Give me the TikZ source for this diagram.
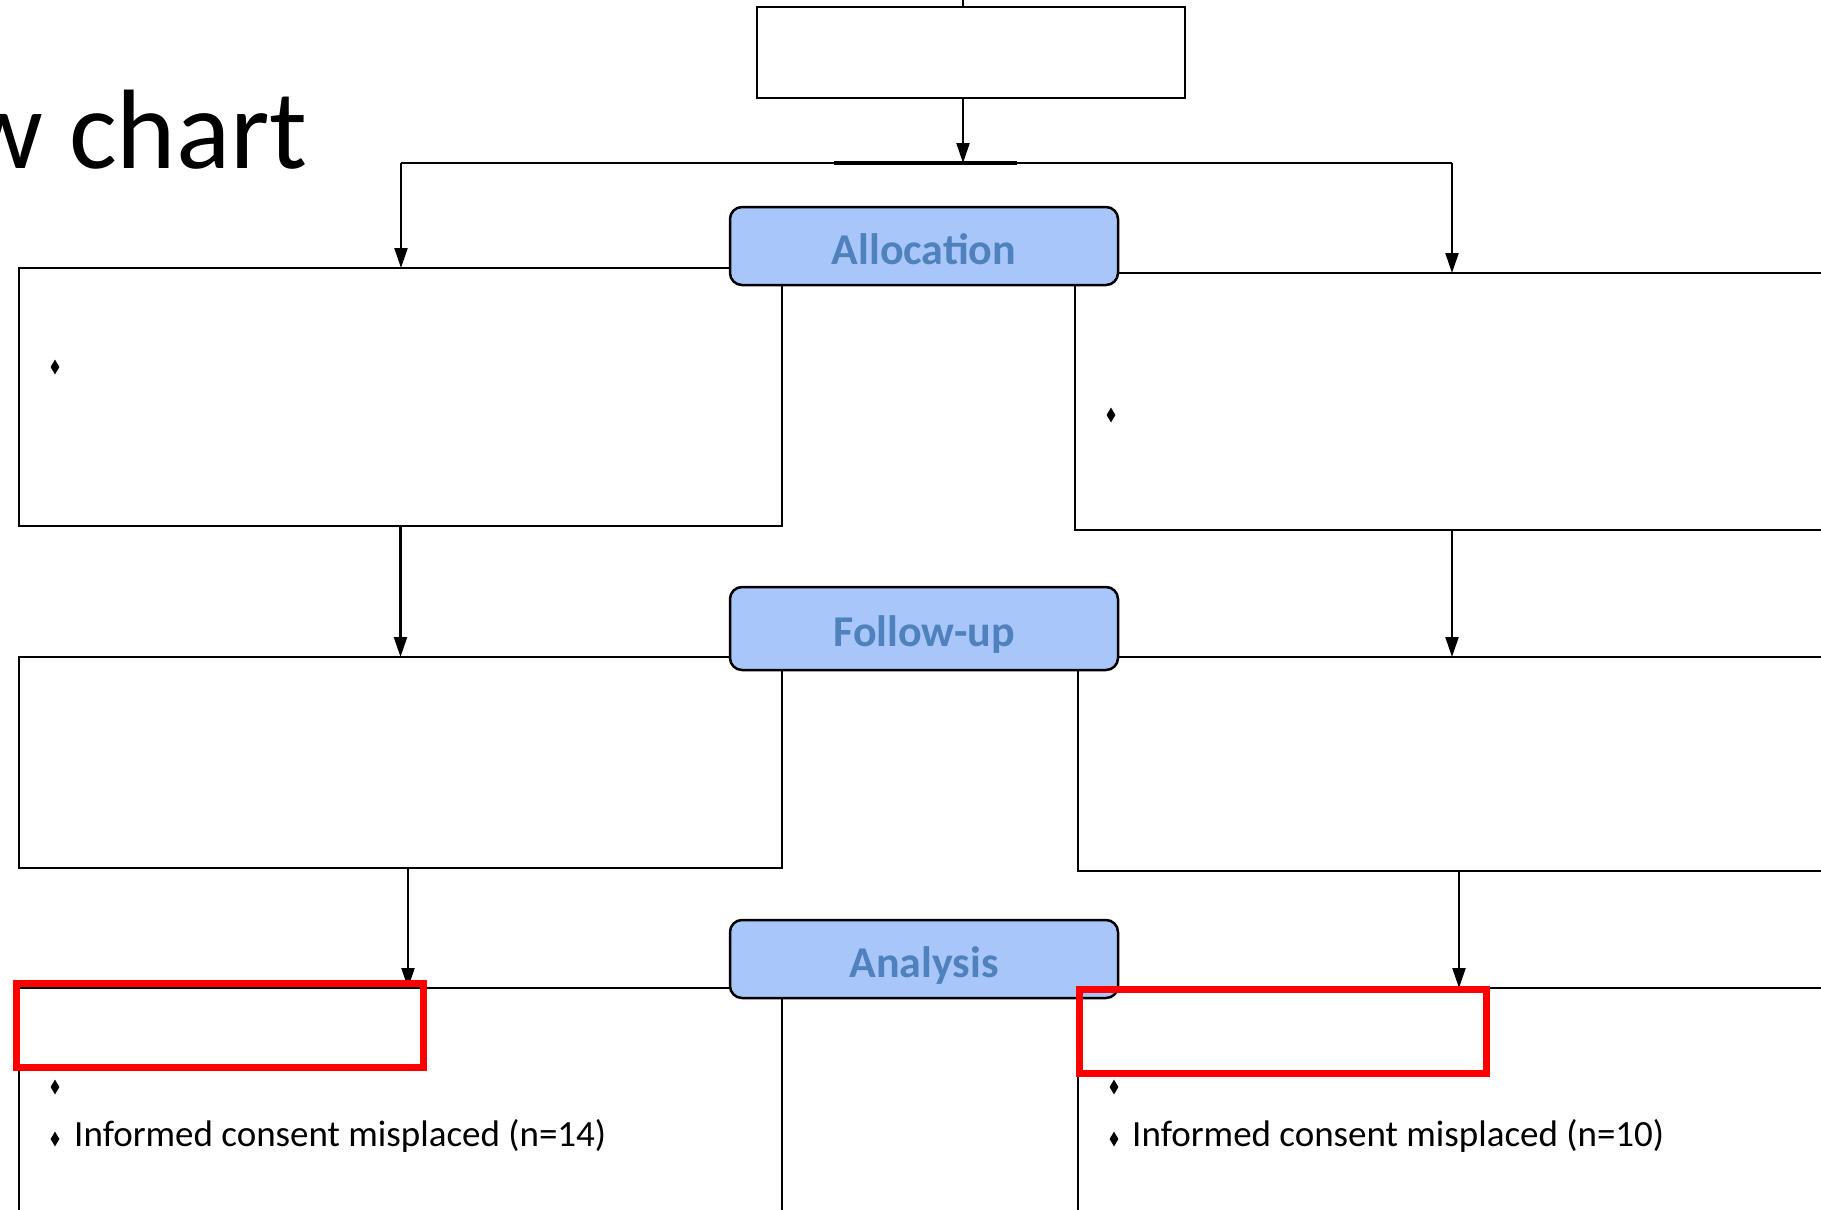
\documentclass[tikz,border=0pt]{standalone}
\usepackage{fontspec}
\setmainfont{Carlito}
\usetikzlibrary{arrows.meta,shapes.geometric}
\definecolor{labfill}{RGB}{168,198,250}
\definecolor{labtext}{RGB}{79,129,189}
\begin{document}
\begin{tikzpicture}[x=1pt,y=-1pt,
  box/.style={draw, line width=2.2pt, rectangle, inner sep=0pt, outer sep=0pt, anchor=north west},
  lab/.style={draw, line width=2.5pt, rounded corners=12pt, fill=labfill, text=labtext,
    font=\bfseries\fontsize{44}{44}\selectfont, minimum width=388pt, inner sep=0pt, outer sep=0pt,
    text height=36pt, text depth=0pt, anchor=north west},
  arr/.style={-{Triangle[length=20pt,width=13pt]}, line width=2.2pt},
  redbox/.style={draw=red, line width=7pt, inner sep=0pt, outer sep=0pt, anchor=north west},
  bul/.style={diamond, fill=black, inner sep=0pt, minimum width=9pt, minimum height=15pt},
  btxt/.style={anchor=base west, font=\fontsize{37}{37}\selectfont, inner sep=0pt}]
\useasboundingbox (0,0) rectangle (1821,1210);
\clip (0,0) rectangle (1821,1210);
\fill[white] (0,0) rectangle (1821,1210);

\node[anchor=base east, font=\fontsize{113}{113}\selectfont, inner sep=0pt] (title) at (308,168) {Flow chart};

% top box
\node[box, minimum width=428pt, minimum height=91pt] (top) at (757,7) {};
\coordinate (tick) at (963,-5);
\draw[line width=2.2pt] (tick) -- (tick |- top.north);
\coordinate (split) at (963,163);
\draw[arr] (split |- top.south) -- (split);
\coordinate (lsplit) at (401,163);
\coordinate (rsplit) at (1452,163);
\draw[line width=2.2pt] (lsplit) -- (rsplit);
\draw[line width=3.2pt] (834,163) -- (1017,163);

% boxes
\node[box, minimum width=763pt, minimum height=258pt] (L1) at (19,268) {};
\node[box, minimum width=800pt, minimum height=257pt] (R1) at (1075,273) {};
\node[box, minimum width=763pt, minimum height=211pt] (L2) at (19,657) {};
\node[box, minimum width=800pt, minimum height=214pt] (R2) at (1078,657) {};
\node[box, minimum width=763pt, minimum height=300pt] (L3) at (19,988) {};
\node[box, minimum width=800pt, minimum height=300pt] (R3) at (1078,988) {};

% arrows
\draw[arr] (lsplit) -- (lsplit |- L1.north);
\draw[arr] (rsplit) -- (rsplit |- R1.north);
\draw[arr] (L1.south) -- (L2.north);
\draw[arr] (rsplit |- R1.south) -- (rsplit |- R2.north);
\coordinate (l3x) at (408,0);
\coordinate (r3x) at (1459,0);
\draw[arr] (l3x |- L2.south) -- (l3x |- L3.north);
\draw[arr] (r3x |- R2.south) -- (r3x |- R3.north);

% labels
\node[lab, minimum height=78pt] (alloc) at (730,207) {Allocation};
\node[lab, minimum height=83pt] (fu) at (730,587) {Follow-up};
\node[lab, minimum height=78pt] (ana) at (730,920) {Analysis};

% bullets
\node[bul] (b1) at (55,367) {};
\node[bul] (b2) at (1111,415) {};
\node[bul] (b3) at (55,1087) {};
\node[bul] (b4) at (55,1139) {};
\node[bul] (b5) at (1114,1087) {};
\node[bul] (b6) at (1114,1139) {};
\node[btxt] (t1) at (74,1146) {Informed consent misplaced (n=14)};
\node[btxt] (t2) at (1132,1146) {Informed consent misplaced (n=10)};

% red highlight boxes
\node[redbox, minimum width=407pt, minimum height=84pt] (hl1) at (16,983) {};
\node[redbox, minimum width=407pt, minimum height=84pt] (hl2) at (1079,989) {};
\end{tikzpicture}
\end{document}
